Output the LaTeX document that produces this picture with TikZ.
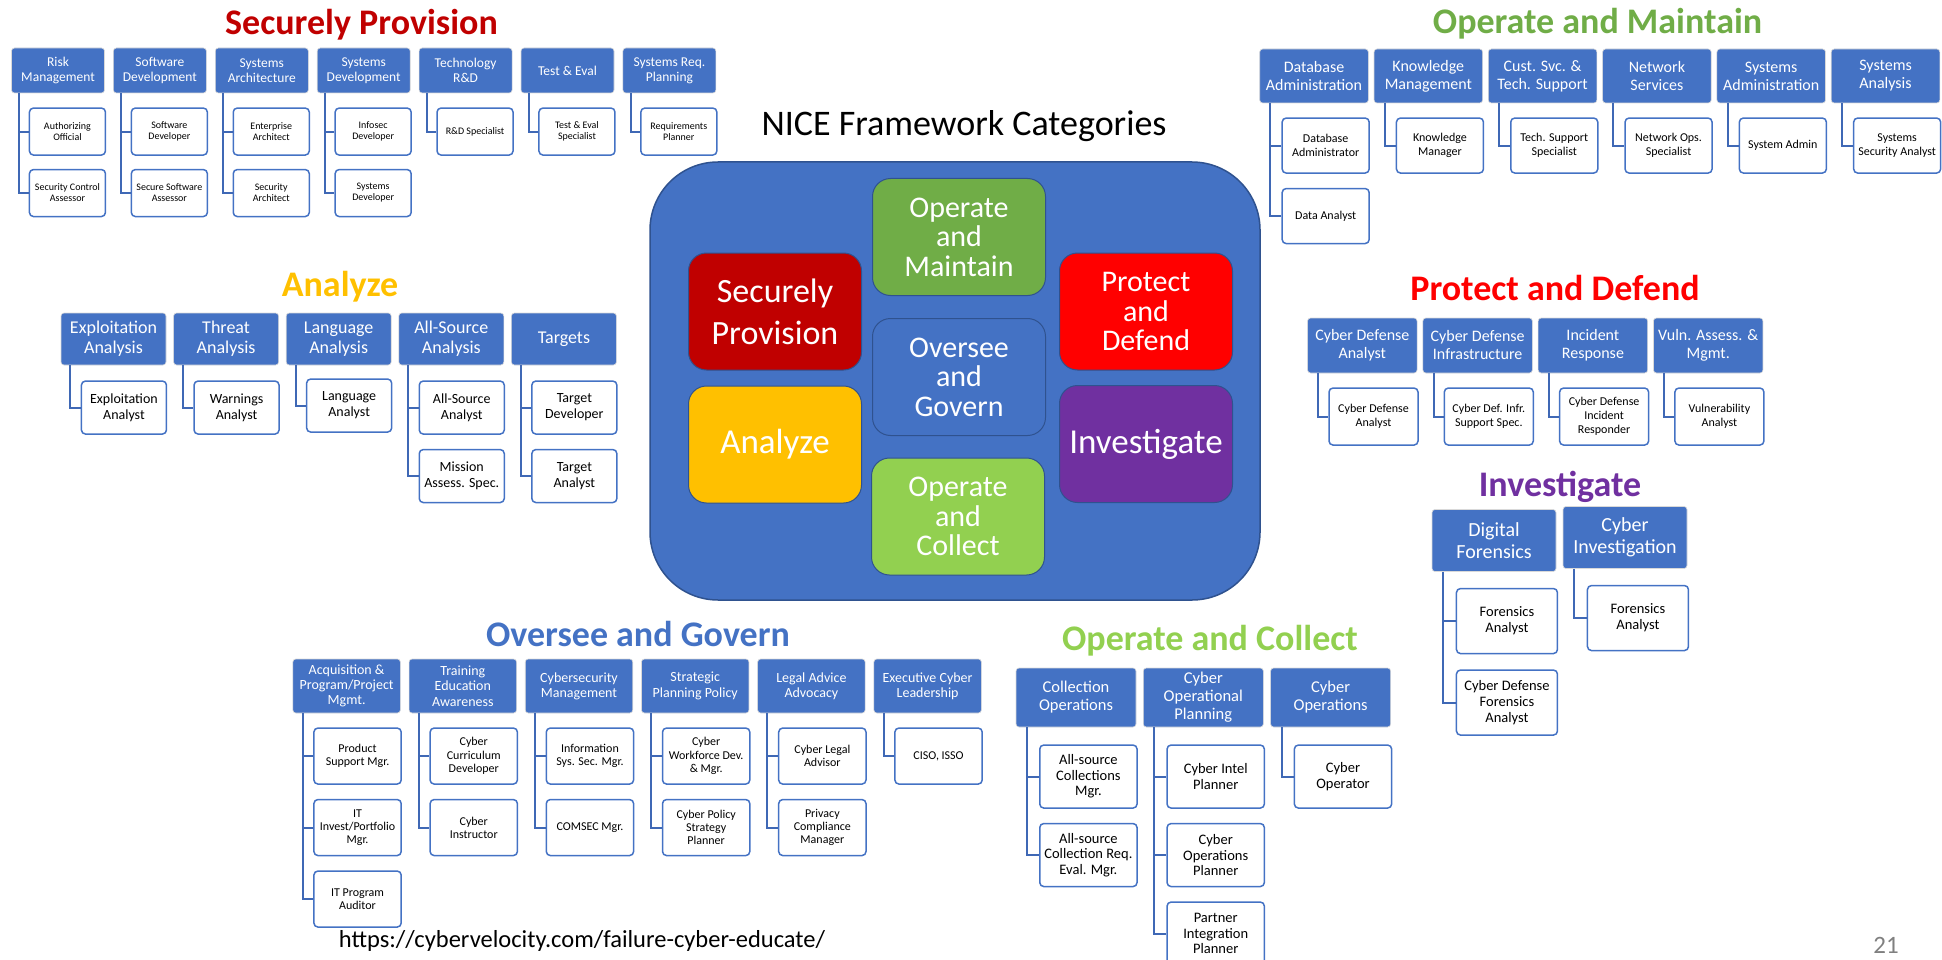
\documentclass[tikz,border=0pt]{standalone}
\usepackage{fontspec}
\setmainfont{Carlito}
\usetikzlibrary{positioning}

\definecolor{niceblue}{HTML}{4472C4}
\definecolor{darkblue}{HTML}{2F528F}
\definecolor{linkblue}{HTML}{3F68B5}
\definecolor{spred}{HTML}{C00000}
\definecolor{omgreen}{HTML}{70AD47}
\definecolor{anyellow}{HTML}{FFC000}
\definecolor{pdred}{HTML}{FF0000}
\definecolor{inpurple}{HTML}{7030A0}
\definecolor{ocgreen}{HTML}{92D050}

\begin{document}
\begin{tikzpicture}[x=1pt, y=-1pt]
        \tikzstyle{head}=[rectangle, rounded corners=3pt, fill=niceblue, draw=black!15, line width=0.6pt, text=white, align=center, inner sep=1pt]
        \tikzstyle{role}=[rectangle, rounded corners=4pt, fill=white, draw=niceblue, line width=1.5pt, text=black, align=center, inner sep=1pt]
        \tikzstyle{link}=[draw=linkblue, line width=2pt]
        \tikzstyle{title}=[anchor=base, font=\fontsize{36}{40}\selectfont\bfseries]
        \tikzstyle{tile}=[rectangle, rounded corners=18pt, draw=darkblue, line width=1pt, text=white, align=center, minimum width=173pt, minimum height=117pt]
        \tikzstyle{tile2}=[tile, font=\fontsize{34}{42}\selectfont]
        \tikzstyle{tile3}=[tile, font=\fontsize{30}{29.5}\selectfont]
        % sizes of each group
        \tikzstyle{sp head}=[head, minimum width=93pt, minimum height=45pt, font=\fontsize{13.5}{15}\selectfont]
        \tikzstyle{sp role}=[role, minimum width=76pt, minimum height=47pt, font=\fontsize{10}{11}\selectfont]
        \tikzstyle{om head}=[head, minimum width=108.6pt, minimum height=54pt, font=\fontsize{16}{18}\selectfont]
        \tikzstyle{om role}=[role, minimum width=87pt, minimum height=55pt, font=\fontsize{12}{13.5}\selectfont]
        \tikzstyle{an head}=[head, minimum width=105pt, minimum height=52pt, font=\fontsize{18}{20}\selectfont]
        \tikzstyle{an role}=[role, minimum width=85pt, minimum height=53pt, font=\fontsize{14}{16}\selectfont]
        \tikzstyle{pd head}=[head, minimum width=109.5pt, minimum height=55pt, font=\fontsize{16}{18}\selectfont]
        \tikzstyle{pd role}=[role, minimum width=89pt, minimum height=57pt, font=\fontsize{12}{14}\selectfont]
        \tikzstyle{in head}=[head, minimum width=124pt, minimum height=62pt, font=\fontsize{20}{22}\selectfont]
        \tikzstyle{in role}=[role, minimum width=101pt, minimum height=65pt, font=\fontsize{14.5}{16}\selectfont]
        \tikzstyle{og head}=[head, minimum width=107.5pt, minimum height=54pt, font=\fontsize{14}{15.3}\selectfont]
        \tikzstyle{og role}=[role, minimum width=87.3pt, minimum height=56pt, font=\fontsize{12}{13.3}\selectfont]
        \tikzstyle{oc head}=[head, minimum width=120pt, minimum height=59pt, font=\fontsize{16.5}{18}\selectfont]
        \tikzstyle{oc role}=[role, minimum width=97.3pt, minimum height=63pt, font=\fontsize{14.5}{15.5}\selectfont]

        \useasboundingbox (0,0) rectangle (1942,960);

        % the seven categories in the middle
        \node[title, font=\fontsize{36}{40}\selectfont] (nice) at (964,136) {NICE Framework Categories};
        \node[rectangle, rounded corners=68pt, fill=niceblue, draw=darkblue, line width=1.5pt, minimum width=610pt, minimum height=438pt] (frame) at (955,381) {};
        \node[tile2, fill=spred]    (tsp) at (775,311.5) {Securely\\Provision};
        \node[tile3, fill=omgreen]  (tom) at (959,237)   {Operate\\and\\Maintain};
        \node[tile3, fill=pdred]    (tpd) at (1146,311.5){Protect\\and\\Defend};
        \node[tile3, fill=niceblue] (tog) at (959,377)   {Oversee\\and\\Govern};
        \node[tile2, fill=anyellow, font=\fontsize{35}{42}\selectfont] (tan) at (775,444.5) {Analyze};
        \node[tile2, fill=inpurple, font=\fontsize{35}{42}\selectfont] (tin) at (1146,444) {Investigate};
        \node[tile3, fill=ocgreen]  (toc) at (958,516.5) {Operate\\and\\Collect};

        % Securely Provision
        \node[title, text=spred] (sptitle) at (361.5,35) {Securely Provision};
        \node[sp head] (sp1) at (58,70.5) {Risk\\Management};
        \node[sp head] (sp2) [right=8.3pt of sp1] {Software\\Development};
        \node[sp head] (sp3) [right=8.3pt of sp2] {Systems\\Architecture};
        \node[sp head] (sp4) [right=8.3pt of sp3] {Systems\\Development};
        \node[sp head] (sp5) [right=8.3pt of sp4] {Technology\\R\&D};
        \node[sp head] (sp6) [right=8.3pt of sp5] {Test \& Eval};
        \node[sp head] (sp7) [right=8.3pt of sp6] {Systems Req.\\Planning};
        \node[sp role] (sp1a) [below right=14pt and 17.5pt of sp1.south west] {Authorizing\\Official};
        \node[sp role] (sp1b) [below=13pt of sp1a] {Security Control\\Assessor};
        \node[sp role] (sp2a) [below right=14pt and 17.5pt of sp2.south west] {Software\\Developer};
        \node[sp role] (sp2b) [below=13pt of sp2a] {Secure Software\\Assessor};
        \node[sp role] (sp3a) [below right=14pt and 17.5pt of sp3.south west] {Enterprise\\Architect};
        \node[sp role] (sp3b) [below=13pt of sp3a] {Security\\Architect};
        \node[sp role] (sp4a) [below right=14pt and 17.5pt of sp4.south west] {Infosec\\Developer};
        \node[sp role] (sp4b) [below=13pt of sp4a] {Systems\\Developer};
        \node[sp role] (sp5a) [below right=14pt and 17.5pt of sp5.south west] {R\&D Specialist};
        \node[sp role] (sp6a) [below right=14pt and 17.5pt of sp6.south west] {Test \& Eval\\Specialist};
        \node[sp role] (sp7a) [below right=14pt and 17.5pt of sp7.south west] {Requirements\\Planner};
        \draw[link] ([xshift=8pt]sp1.south west) |- (sp1a.west);
        \draw[link] ([xshift=8pt]sp1.south west) |- (sp1b.west);
        \draw[link] ([xshift=8pt]sp2.south west) |- (sp2a.west);
        \draw[link] ([xshift=8pt]sp2.south west) |- (sp2b.west);
        \draw[link] ([xshift=8pt]sp3.south west) |- (sp3a.west);
        \draw[link] ([xshift=8pt]sp3.south west) |- (sp3b.west);
        \draw[link] ([xshift=8pt]sp4.south west) |- (sp4a.west);
        \draw[link] ([xshift=8pt]sp4.south west) |- (sp4b.west);
        \draw[link] ([xshift=8pt]sp5.south west) |- (sp5a.west);
        \draw[link] ([xshift=8pt]sp6.south west) |- (sp6a.west);
        \draw[link] ([xshift=8pt]sp7.south west) |- (sp7a.west);

        % Operate and Maintain
        \node[title, text=omgreen] (omtitle) at (1597.5,34) {Operate and Maintain};
        \node[om head] (om1) at (1314,76) {Database\\Administration};
        \node[om head] (om2) [right=5.1pt of om1] {Knowledge\\Management};
        \node[om head] (om3) [right=5.1pt of om2] {Cust. Svc. \&\\Tech. Support};
        \node[om head] (om4) [right=5.1pt of om3] {Network\\Services};
        \node[om head] (om5) [right=5.1pt of om4] {Systems\\Administration};
        \node[om head] (om6) [right=5.1pt of om5] {Systems\\Analysis};
        \node[om role] (om1a) [below right=14pt and 22pt of om1.south west] {Database\\Administrator};
        \node[om role] (om1b) [below=14pt of om1a] {Data Analyst};
        \node[om role] (om2a) [below right=14pt and 22pt of om2.south west] {Knowledge\\Manager};
        \node[om role] (om3a) [below right=14pt and 22pt of om3.south west] {Tech. Support\\Specialist};
        \node[om role] (om4a) [below right=14pt and 22pt of om4.south west] {Network Ops.\\Specialist};
        \node[om role] (om5a) [below right=14pt and 22pt of om5.south west] {System Admin};
        \node[om role] (om6a) [below right=14pt and 22pt of om6.south west] {Systems\\Security Analyst};
        \draw[link] ([xshift=11pt]om1.south west) |- (om1a.west);
        \draw[link] ([xshift=11pt]om1.south west) |- (om1b.west);
        \draw[link] ([xshift=11pt]om2.south west) |- (om2a.west);
        \draw[link] ([xshift=11pt]om3.south west) |- (om3a.west);
        \draw[link] ([xshift=11pt]om4.south west) |- (om4a.west);
        \draw[link] ([xshift=11pt]om5.south west) |- (om5a.west);
        \draw[link] ([xshift=11pt]om6.south west) |- (om6a.west);

        % Analyze
        \node[title, text=anyellow] (antitle) at (340,296.7) {Analyze};
        \node[an head] (an1) at (113.5,339) {Exploitation\\Analysis};
        \node[an head] (an2) [right=7pt of an1] {Threat\\Analysis};
        \node[an head] (an3) [right=7pt of an2] {Language\\Analysis};
        \node[an head] (an4) [right=7pt of an3] {All-Source\\Analysis};
        \node[an head] (an5) [right=7pt of an4] {Targets};
        \node[an role] (an1a) [below right=15pt and 20pt of an1.south west] {Exploitation\\Analyst};
        \node[an role] (an2a) [below right=15pt and 20pt of an2.south west] {Warnings\\Analyst};
        \node[an role] (an3a) [below right=13pt and 20pt of an3.south west] {Language\\Analyst};
        \node[an role] (an4a) [below right=15pt and 20pt of an4.south west] {All-Source\\Analyst};
        \node[an role] (an4b) [below=14pt of an4a] {Mission\\Assess. Spec.};
        \node[an role] (an5a) [below right=15pt and 20pt of an5.south west] {Target\\Developer};
        \node[an role] (an5b) [below=14pt of an5a] {Target\\Analyst};
        \draw[link] ([xshift=9.6pt]an1.south west) |- (an1a.west);
        \draw[link] ([xshift=9.6pt]an2.south west) |- (an2a.west);
        \draw[link] ([xshift=9.6pt]an3.south west) |- (an3a.west);
        \draw[link] ([xshift=9.6pt]an4.south west) |- (an4a.west);
        \draw[link] ([xshift=9.6pt]an4.south west) |- (an4b.west);
        \draw[link] ([xshift=9.6pt]an5.south west) |- (an5a.west);
        \draw[link] ([xshift=9.6pt]an5.south west) |- (an5b.west);

        % Protect and Defend
        \node[title, text=pdred] (pdtitle) at (1555,300) {Protect and Defend};
        \node[pd head] (pd1) at (1362.3,345.5) {Cyber Defense\\Analyst};
        \node[pd head] (pd2) [right=5.2pt of pd1] {Cyber Defense\\Infrastructure};
        \node[pd head] (pd3) [right=5.2pt of pd2] {Incident\\Response};
        \node[pd head] (pd4) [right=5.2pt of pd3] {Vuln. Assess. \&\\Mgmt.};
        \node[pd role] (pd1a) [below right=14pt and 21pt of pd1.south west] {Cyber Defense\\Analyst};
        \node[pd role] (pd2a) [below right=14pt and 21pt of pd2.south west] {Cyber Def. Infr.\\Support Spec.};
        \node[pd role] (pd3a) [below right=14pt and 21pt of pd3.south west] {Cyber Defense\\Incident\\Responder};
        \node[pd role] (pd4a) [below right=14pt and 21pt of pd4.south west] {Vulnerability\\Analyst};
        \draw[link] ([xshift=11pt]pd1.south west) |- (pd1a.west);
        \draw[link] ([xshift=11pt]pd2.south west) |- (pd2a.west);
        \draw[link] ([xshift=11pt]pd3.south west) |- (pd3a.west);
        \draw[link] ([xshift=11pt]pd4.south west) |- (pd4a.west);

        % Investigate
        \node[title, text=inpurple] (intitle) at (1560,496.7) {Investigate};
        \node[in head] (in1) at (1494,540.5) {Digital\\Forensics};
        \node[in head] (in2) at (1625,537.5) {Cyber\\Investigation};
        \node[in role] (in1a) [below right=16pt and 24pt of in1.south west] {Forensics\\Analyst};
        \node[in role] (in1b) [below=15pt of in1a] {Cyber Defense\\Forensics\\Analyst};
        \node[in role] (in2a) [below right=16pt and 24pt of in2.south west] {Forensics\\Analyst};
        \draw[link] ([xshift=11.6pt]in1.south west) |- (in1a.west);
        \draw[link] ([xshift=11.6pt]in1.south west) |- (in1b.west);
        \draw[link] ([xshift=11.6pt]in2.south west) |- (in2a.west);

        % Oversee and Govern
        \node[title, text=niceblue] (ogtitle) at (638,646.7) {Oversee and Govern};
        \node[og head] (og1) at (346.6,686) {Acquisition \&\\Program/Project\\Mgmt.};
        \node[og head] (og2) [right=8.1pt of og1] {Training\\Education\\Awareness};
        \node[og head] (og3) [right=8.1pt of og2] {Cybersecurity\\Management};
        \node[og head] (og4) [right=8.1pt of og3] {Strategic\\Planning Policy};
        \node[og head] (og5) [right=8.1pt of og4] {Legal Advice\\Advocacy};
        \node[og head] (og6) [right=8.1pt of og5] {Executive Cyber\\Leadership};
        \node[og role] (og1a) [below right=14pt and 20.6pt of og1.south west] {Product\\Support Mgr.};
        \node[og role] (og1b) [below=14pt of og1a] {IT\\Invest/Portfolio\\Mgr.};
        \node[og role] (og1c) [below=14pt of og1b] {IT Program\\Auditor};
        \node[og role] (og2a) [below right=14pt and 20.6pt of og2.south west] {Cyber\\Curriculum\\Developer};
        \node[og role] (og2b) [below=14pt of og2a] {Cyber\\Instructor};
        \node[og role] (og3a) [below right=14pt and 20.6pt of og3.south west] {Information\\Sys. Sec. Mgr.};
        \node[og role] (og3b) [below=14pt of og3a] {COMSEC Mgr.};
        \node[og role] (og4a) [below right=14pt and 20.6pt of og4.south west] {Cyber\\Workforce Dev.\\\& Mgr.};
        \node[og role] (og4b) [below=14pt of og4a] {Cyber Policy\\Strategy\\Planner};
        \node[og role] (og5a) [below right=14pt and 20.6pt of og5.south west] {Cyber Legal\\Advisor};
        \node[og role] (og5b) [below=14pt of og5a] {Privacy\\Compliance\\Manager};
        \node[og role] (og6a) [below right=14pt and 20.6pt of og6.south west] {CISO, ISSO};
        \draw[link] ([xshift=10pt]og1.south west) |- (og1a.west);
        \draw[link] ([xshift=10pt]og1.south west) |- (og1b.west);
        \draw[link] ([xshift=10pt]og1.south west) |- (og1c.west);
        \draw[link] ([xshift=10pt]og2.south west) |- (og2a.west);
        \draw[link] ([xshift=10pt]og2.south west) |- (og2b.west);
        \draw[link] ([xshift=10pt]og3.south west) |- (og3a.west);
        \draw[link] ([xshift=10pt]og3.south west) |- (og3b.west);
        \draw[link] ([xshift=10pt]og4.south west) |- (og4a.west);
        \draw[link] ([xshift=10pt]og4.south west) |- (og4b.west);
        \draw[link] ([xshift=10pt]og5.south west) |- (og5a.west);
        \draw[link] ([xshift=10pt]og5.south west) |- (og5b.west);
        \draw[link] ([xshift=10pt]og6.south west) |- (og6a.west);

        % Operate and Collect
        \node[title, text=ocgreen] (octitle) at (1210,650) {Operate and Collect};
        \node[oc head] (oc1) at (1076,697.5) {Collection\\Operations};
        \node[oc head] (oc2) [right=6.7pt of oc1] {Cyber\\Operational\\Planning};
        \node[oc head] (oc3) [right=6.7pt of oc2] {Cyber\\Operations};
        \node[oc role] (oc1a) [below right=17pt and 23.3pt of oc1.south west] {All-source\\Collections\\Mgr.};
        \node[oc role] (oc1b) [below=14pt of oc1a] {All-source\\Collection Req.\\Eval. Mgr.};
        \node[oc role] (oc2a) [below right=17pt and 23.3pt of oc2.south west] {Cyber Intel\\Planner};
        \node[oc role] (oc2b) [below=14pt of oc2a] {Cyber\\Operations\\Planner};
        \node[oc role] (oc2c) [below=14pt of oc2b] {Partner\\Integration\\Planner};
        \node[oc role] (oc3a) [below right=17pt and 23.3pt of oc3.south west] {Cyber\\Operator};
        \draw[link] ([xshift=11.3pt]oc1.south west) |- (oc1a.west);
        \draw[link] ([xshift=11.3pt]oc1.south west) |- (oc1b.west);
        \draw[link] ([xshift=11.3pt]oc2.south west) |- (oc2a.west);
        \draw[link] ([xshift=11.3pt]oc2.south west) |- (oc2b.west);
        \draw[link] ([xshift=11.3pt]oc2.south west) |- (oc2c.west);
        \draw[link] ([xshift=11.3pt]oc3.south west) |- (oc3a.west);

        % source and slide number
        \node[anchor=base, font=\fontsize{24.5}{28}\selectfont] (url) at (582,947) {https://cybervelocity.com/failure-cyber-educate/};
        \node[anchor=base, text=black!50, font=\fontsize{25}{28}\selectfont] (slideno) at (1886,953) {21};
    \end{tikzpicture}
\end{document}
